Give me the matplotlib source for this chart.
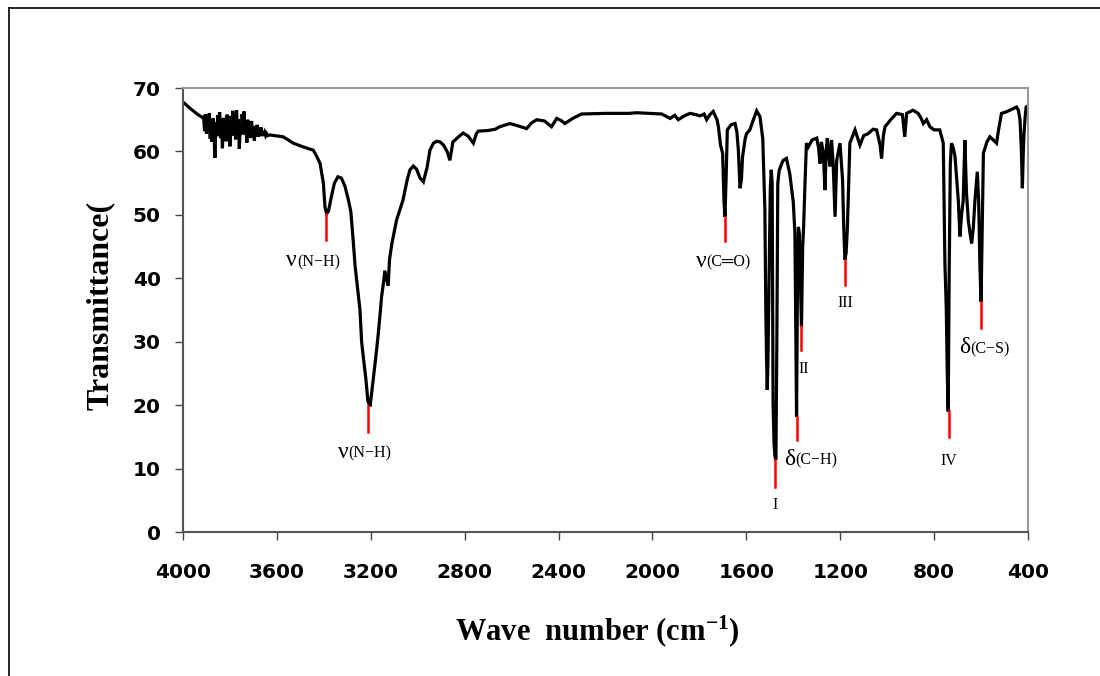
import matplotlib
matplotlib.use('Agg')
import matplotlib.pyplot as plt
from matplotlib.lines import Line2D

################ datos del espectro IR ##########
# zona ruidosa 3912-3630 cm-1
noise_wn = [3912, 3908, 3904, 3900, 3896, 3892, 3888, 3884, 3880, 3876, 3872, 3868,
            3864, 3860, 3856, 3852, 3848, 3844, 3840, 3836, 3832, 3828, 3824, 3820,
            3816, 3812, 3808, 3804, 3800, 3796, 3792, 3788, 3784, 3780, 3776, 3772,
            3768, 3764, 3760, 3756, 3752, 3748, 3744, 3740, 3736, 3732, 3728, 3724,
            3720, 3716, 3712, 3708, 3704, 3700, 3696, 3692, 3688, 3684, 3680, 3676,
            3672, 3668, 3664, 3660, 3656, 3652, 3648, 3644, 3640, 3630]
noise_t = [65.4, 63.2, 65.9, 62.8, 64.7, 63.1, 66.0, 62.0, 64.9, 61.5, 65.2, 63.0,
           59.0, 64.6, 62.4, 65.7, 63.3, 66.2, 62.1, 64.8, 60.5, 65.3, 62.9, 64.4,
           61.6, 65.8, 63.2, 64.9, 60.8, 65.6, 62.5, 66.4, 63.0, 64.7, 61.9, 66.5,
           63.3, 65.1, 60.4, 64.2, 62.7, 65.9, 63.1, 66.3, 62.6, 64.5, 61.4, 65.0,
           62.8, 64.3, 62.1, 64.8, 62.9, 64.0, 61.7, 63.9, 62.6, 64.2, 62.3, 63.6,
           62.7, 63.8, 62.4, 63.2, 62.6, 63.0, 62.5, 62.8, 62.5, 62.6]

wn = ([4000, 3970, 3940, 3915] + noise_wn +
      [3573, 3530, 3487, 3445, 3430, 3416, 3402, 3395, 3388, 3380, 3370, 3355,
       3340, 3325, 3310, 3295, 3285, 3275, 3267, 3255, 3246, 3239, 3230, 3222,
       3212, 3203, 3196, 3185, 3175, 3168, 3160, 3154, 3145, 3140, 3133, 3126,
       3120, 3110, 3090, 3063, 3045, 3033, 3019, 3005, 2990, 2976, 2960, 2948,
       2933, 2919, 2905, 2890, 2875, 2863, 2850, 2841, 2820, 2806, 2785, 2763,
       2750, 2742, 2700, 2670, 2650, 2625, 2607, 2570, 2536, 2515, 2493, 2460,
       2430, 2408, 2390, 2373, 2340, 2302, 2200, 2100, 2067, 2010, 1960, 1925,
       1905, 1890, 1865, 1840, 1815, 1798, 1780, 1769, 1755, 1741, 1725, 1719,
       1710, 1701, 1695, 1691, 1686, 1681, 1665, 1648, 1640, 1634, 1627, 1621,
       1616, 1605, 1599, 1585, 1570, 1556, 1542, 1530, 1521, 1517, 1514, 1511,
       1508, 1503, 1498, 1494, 1490, 1486, 1482, 1478, 1474, 1470, 1466, 1460,
       1450, 1443, 1429, 1415, 1400, 1393, 1390, 1386, 1382, 1378, 1374, 1370,
       1365, 1360, 1356, 1350, 1344, 1336, 1320, 1300, 1292, 1286, 1280, 1272,
       1265, 1260, 1255, 1244, 1237, 1230, 1222, 1215, 1201, 1190, 1185, 1180,
       1175, 1170, 1166, 1159, 1137, 1125, 1116, 1100, 1081, 1060, 1045, 1030,
       1024, 1016, 1009, 985, 960, 935, 925, 917, 890, 868, 855, 846,
       832, 818, 800, 776, 761, 757, 754, 748, 744, 740, 736, 731,
       726, 718, 711, 697, 690, 683, 676, 669, 662, 654, 647, 640,
       633, 626, 616, 610, 605, 600, 595, 590, 575, 562, 548, 534,
       525, 513, 495, 477, 460, 449, 441, 434, 428, 424, 420, 417,
       412, 408, 400])

trans = ([67.8, 66.8, 65.9, 65.3] + noise_t +
         [62.3, 61.3, 60.7, 60.2, 59.2, 58.1, 55.0, 51.2, 50.2, 50.6, 52.5, 55.0,
          56.0, 55.8, 54.5, 52.3, 50.5, 46.0, 42.0, 38.0, 35.0, 30.0, 27.0, 24.5,
          20.6, 19.8, 22.0, 25.5, 28.8, 31.3, 34.5, 37.1, 39.5, 41.2, 40.0, 38.8,
          43.0, 45.5, 49.2, 52.3, 55.5, 57.1, 57.7, 57.2, 55.8, 55.2, 57.5, 60.2,
          61.3, 61.6, 61.5, 61.0, 60.0, 58.6, 61.5, 61.8, 62.5, 62.9, 62.4, 61.3,
          62.8, 63.2, 63.3, 63.5, 63.9, 64.2, 64.4, 64.0, 63.6, 64.5, 65.0, 64.8,
          63.9, 65.2, 64.9, 64.4, 65.2, 65.9, 66.0, 66.0, 66.1, 66.0, 65.9, 65.2,
          65.7, 65.0, 65.6, 66.0, 65.8, 65.6, 65.9, 65.0, 65.8, 66.3, 65.0, 63.9,
          61.0, 59.7, 52.0, 49.7, 56.0, 63.4, 64.2, 64.4, 63.0, 60.2, 54.2, 55.5,
          59.2, 62.0, 62.8, 63.4, 65.0, 66.4, 65.5, 62.0, 50.8, 35.0, 27.6, 22.4,
          26.5, 40.0, 54.0, 57.1, 55.0, 20.0, 14.0, 11.9, 11.4, 30.0, 55.0, 57.0,
          58.0, 58.6, 58.9, 56.5, 52.0, 47.1, 33.9, 18.2, 40.0, 48.1, 47.0, 40.0,
          32.4, 45.0, 48.1, 55.0, 61.3, 60.7, 61.8, 62.1, 60.5, 58.1, 61.5, 59.7,
          53.9, 60.0, 62.1, 57.6, 61.8, 58.0, 49.7, 58.6, 61.3, 55.5, 48.0, 42.9,
          44.0, 47.5, 52.3, 61.3, 63.4, 62.0, 61.0, 62.5, 62.8, 63.5, 63.4, 61.0,
          58.9, 62.5, 63.9, 65.0, 66.0, 65.8, 62.3, 66.0, 66.5, 66.0, 65.2, 64.4,
          65.0, 63.9, 63.4, 63.4, 61.3, 50.0, 42.4, 35.0, 25.0, 19.0, 40.0, 58.0,
          61.3, 60.5, 59.2, 52.3, 46.6, 50.0, 52.3, 61.8, 53.4, 49.0, 47.1, 45.5,
          48.0, 52.3, 56.8, 52.0, 42.0, 36.3, 48.0, 59.7, 61.5, 62.3, 61.8, 61.3,
          63.5, 66.0, 66.2, 66.5, 66.8, 67.0, 66.5, 65.0, 60.0, 54.2, 60.0, 62.8,
          65.5, 67.0, 67.2])

# bandas asignadas: posicion, extremo sup./inf. de la marca roja
band_wn = [3390, 3210, 1691, 1478, 1386, 1365, 1180, 737, 600]
band_top = [50.2, 19.8, 49.7, 11.4, 18.2, 32.4, 42.9, 19.0, 36.3]
band_bot = [46.0, 15.8, 45.8, 7.1, 14.5, 28.7, 38.9, 15.0, 32.1]

xticks = [4000, 3600, 3200, 2800, 2400, 2000, 1600, 1200, 800, 400]
yticks = [0, 10, 20, 30, 40, 50, 60, 70]

plt.rcParams['mathtext.fontset'] = 'custom'
plt.rcParams['mathtext.rm'] = 'Liberation Serif:bold'
plt.rcParams['mathtext.it'] = 'Liberation Serif:bold'
plt.rcParams['mathtext.bf'] = 'Liberation Serif:bold'

fig = plt.figure(figsize=(11, 6.76), dpi=100)
ax = fig.add_axes([183/1100, 1-532/676, (1028-183)/1100, (532-88)/676])

ax.plot(wn, trans, color='black', lw=2.3, solid_joinstyle='miter')

# marcas rojas
for w, t0, t1 in zip(band_wn, band_top, band_bot):
  ax.plot([w, w], [t0, t1], color='red', lw=1.8, zorder=5)

ax.set_xlim(4000, 400)
ax.set_ylim(0, 70)
ax.set_xticks(xticks)
ax.set_yticks(yticks)
ax.set_xticklabels([str(v) for v in xticks], fontfamily='DejaVu Sans', fontweight='bold', fontsize=14.5)
ax.set_yticklabels([str(v) for v in yticks], fontfamily='DejaVu Sans', fontweight='bold', fontsize=14.5)
ax.tick_params(axis='y', direction='out', length=6, width=1, color='#444444', pad=10)
ax.tick_params(axis='x', direction='out', length=6, width=1, color='#444444', pad=16)
for s in ['left', 'bottom']:
  ax.spines[s].set_color('#555555')
  ax.spines[s].set_linewidth(1.5)
for s in ['top', 'right']:
  ax.spines[s].set_color('#999999')
  ax.spines[s].set_linewidth(1.5)

######### etiquetas de las bandas ########
serif = 'Liberation Serif'
gsize = 17
rsize = 11.5
def greek(x, y, g, rest):
  ax.text(x, y, g, ha='right', va='baseline', fontsize=gsize, family=serif)
  ax.text(x, y, rest, ha='left', va='baseline', fontsize=rsize, family=serif)

greek(3514, 41.9, '\u03bd', '(N\u2212H)')
greek(3296, 11.7, '\u03bd', '(N\u2212H)')
greek(1769, 41.8, '\u03bd', '(C\u2550O)')
greek(1393, 10.6, '\u03b4', '(C\u2212H)')
greek(647, 28.2, '\u03b4', '(C\u2212S)')

ax.text(1478, 3.6, 'I', ha='center', va='baseline', fontsize=rsize, family=serif)
ax.text(1357, 25.1, 'II', ha='center', va='baseline', fontsize=rsize, family=serif)
ax.text(1180, 35.5, 'III', ha='center', va='baseline', fontsize=rsize, family=serif)
ax.text(737, 10.6, 'IV', ha='center', va='baseline', fontsize=rsize, family=serif)

# titulos de ejes
fig.text(100/1100, 1-305/676, 'Transmittance(', rotation=90, ha='center', va='center',
         fontsize=23, family=serif, fontweight='bold')
fig.text(597/1100, 1-640/676, r'Wave  number (cm$^{-1}$)', ha='center', va='baseline',
         fontsize=22, family=serif, fontweight='bold')

# marco exterior
fig.add_artist(Line2D([9/1100, 9/1100], [0, 1-8/676], transform=fig.transFigure, color='black', lw=1.2))
fig.add_artist(Line2D([9/1100, 1], [1-8/676, 1-8/676], transform=fig.transFigure, color='black', lw=1.2))

plt.savefig('out.png', dpi=100)
